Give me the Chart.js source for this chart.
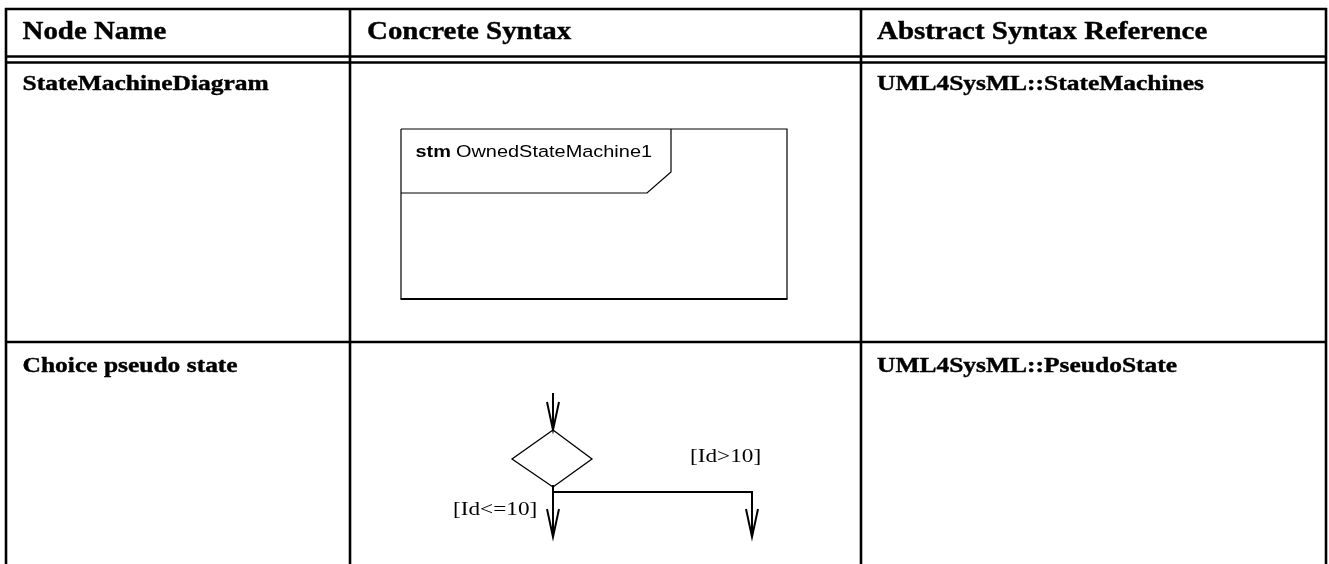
<!DOCTYPE html>
<html>
<head>
<meta charset="utf-8">
<script src="https://cdn.jsdelivr.net/npm/chart.js@4.4.1/dist/chart.umd.min.js"></script>
<style>
  html, body { margin: 0; padding: 0; background: #fff; }
  #wrap { width: 1329px; height: 564px; position: relative; }
</style>
</head>
<body>
<div id="wrap"><canvas id="table"></canvas></div>
<script>
// table content
const columnHeaders = ['Node Name', 'Concrete Syntax', 'Abstract Syntax Reference'];
const nodeNames = ['StateMachineDiagram', 'Choice pseudo state'];
const abstractRefs = ['UML4SysML::StateMachines', 'UML4SysML::PseudoState'];
const frameLabel = ['stm', 'OwnedStateMachine1'];
const guardLabels = ['[Id>10]', '[Id<=10]'];

// the source page is a bit stretched sideways, so text is too
const SX = 1.18;
const SERIF = '"Liberation Serif", "Times New Roman", serif';
const SANS = '"Liberation Sans", Arial, sans-serif';

function stretchText(ctx, text, x, y, font, heavy) {
    ctx.save();
    ctx.font = font;
    ctx.translate(x, y);
    ctx.scale(SX, 1);
    ctx.fillText(text, 0, 0);
    if (heavy) {
        ctx.lineWidth = heavy;
        ctx.strokeText(text, 0, 0);
    }
    const w = ctx.measureText(text).width * SX;
    ctx.restore();
    return w;
}

function line(ctx, pts, width) {
    ctx.beginPath();
    ctx.lineWidth = width;
    ctx.moveTo(pts[0][0], pts[0][1]);
    for (let i = 1; i < pts.length; i++) ctx.lineTo(pts[i][0], pts[i][1]);
    ctx.stroke();
}

function arrowDown(ctx, x, y0, y1) {
    line(ctx, [[x, y0], [x, y1]], 2);
    line(ctx, [[x - 6, y1 - 28], [x, y1], [x + 6, y1 - 28]], 2);
}

const tablePlugin = {
    id: 'tablePlugin',
    afterDraw(chart) {
        const ctx = chart.ctx;
        const sx = v => chart.scales.x.getPixelForValue(v);
        const sy = v => chart.scales.y.getPixelForValue(v);
        ctx.save();
        ctx.strokeStyle = '#000';
        ctx.fillStyle = '#000';
        ctx.lineCap = 'butt';

        // grid
        const cols = [6, 350, 861, 1326];
        cols.forEach(c => line(ctx, [[sx(c), sy(8)], [sx(c), sy(564)]], 2.6));
        line(ctx, [[sx(5), sy(9)], [sx(1327), sy(9)]], 2.6);
        line(ctx, [[sx(5), sy(56.5)], [sx(1327), sy(56.5)]], 2.6);
        line(ctx, [[sx(5), sy(62.5)], [sx(1327), sy(62.5)]], 2.6);
        line(ctx, [[sx(5), sy(342)], [sx(1327), sy(342)]], 2.6);

        // headers and rows
        const textX = [22.5, 367, 877];
        columnHeaders.forEach((h, i) => stretchText(ctx, h, sx(textX[i]), sy(39), 'bold 24.5px ' + SERIF, 0.4));
        const rowBase = [90, 372];
        nodeNames.forEach((n, i) => stretchText(ctx, n, sx(textX[0]), sy(rowBase[i]), 'bold 21.6px ' + SERIF, 0.4));
        abstractRefs.forEach((n, i) => stretchText(ctx, n, sx(textX[2]), sy(rowBase[i]), 'bold 21.6px ' + SERIF, 0.4));

        // state machine frame
        line(ctx, [[sx(401), sy(129)], [sx(787), sy(129)], [sx(787), sy(299)]], 1.2);
        line(ctx, [[sx(401), sy(129)], [sx(401), sy(299)]], 1.2);
        line(ctx, [[sx(400.5), sy(299)], [sx(787.5), sy(299)]], 2);
        line(ctx, [[sx(671), sy(129)], [sx(671), sy(172)], [sx(647), sy(193)], [sx(401), sy(193)]], 1.2);
        const w = stretchText(ctx, frameLabel[0], sx(415.5), sy(157), 'bold 16.9px ' + SANS);
        stretchText(ctx, frameLabel[1], sx(415.5) + w + 5, sy(157), '16.9px ' + SANS);

        // choice pseudo state
        const cx = 553;
        arrowDown(ctx, sx(cx), sy(393), sy(430));
        line(ctx, [[sx(cx), sy(430)], [sx(592), sy(459)], [sx(cx), sy(487)], [sx(512), sy(459)], [sx(cx), sy(430)]], 1.3);
        arrowDown(ctx, sx(cx), sy(485), sy(537));
        line(ctx, [[sx(cx), sy(492)], [sx(752), sy(492)]], 2);
        arrowDown(ctx, sx(752), sy(491), sy(537));
        stretchText(ctx, guardLabels[0], sx(690), sy(462), '19.7px ' + SERIF);
        stretchText(ctx, guardLabels[1], sx(453), sy(515), '19.7px ' + SERIF);

        ctx.restore();
    }
};

new Chart(document.getElementById('table').getContext('2d'), {
    type: 'scatter',
    data: { datasets: [{ data: [], pointRadius: 0 }] },
    options: {
        responsive: true,
        maintainAspectRatio: false,
        animation: false,
        events: [],
        layout: { padding: 0 },
        plugins: { legend: { display: false }, tooltip: { enabled: false } },
        scales: {
            x: { type: 'linear', min: 0, max: 1329, display: false },
            y: { type: 'linear', min: 0, max: 564, reverse: true, display: false }
        }
    },
    plugins: [tablePlugin]
});
</script>
</body>
</html>
